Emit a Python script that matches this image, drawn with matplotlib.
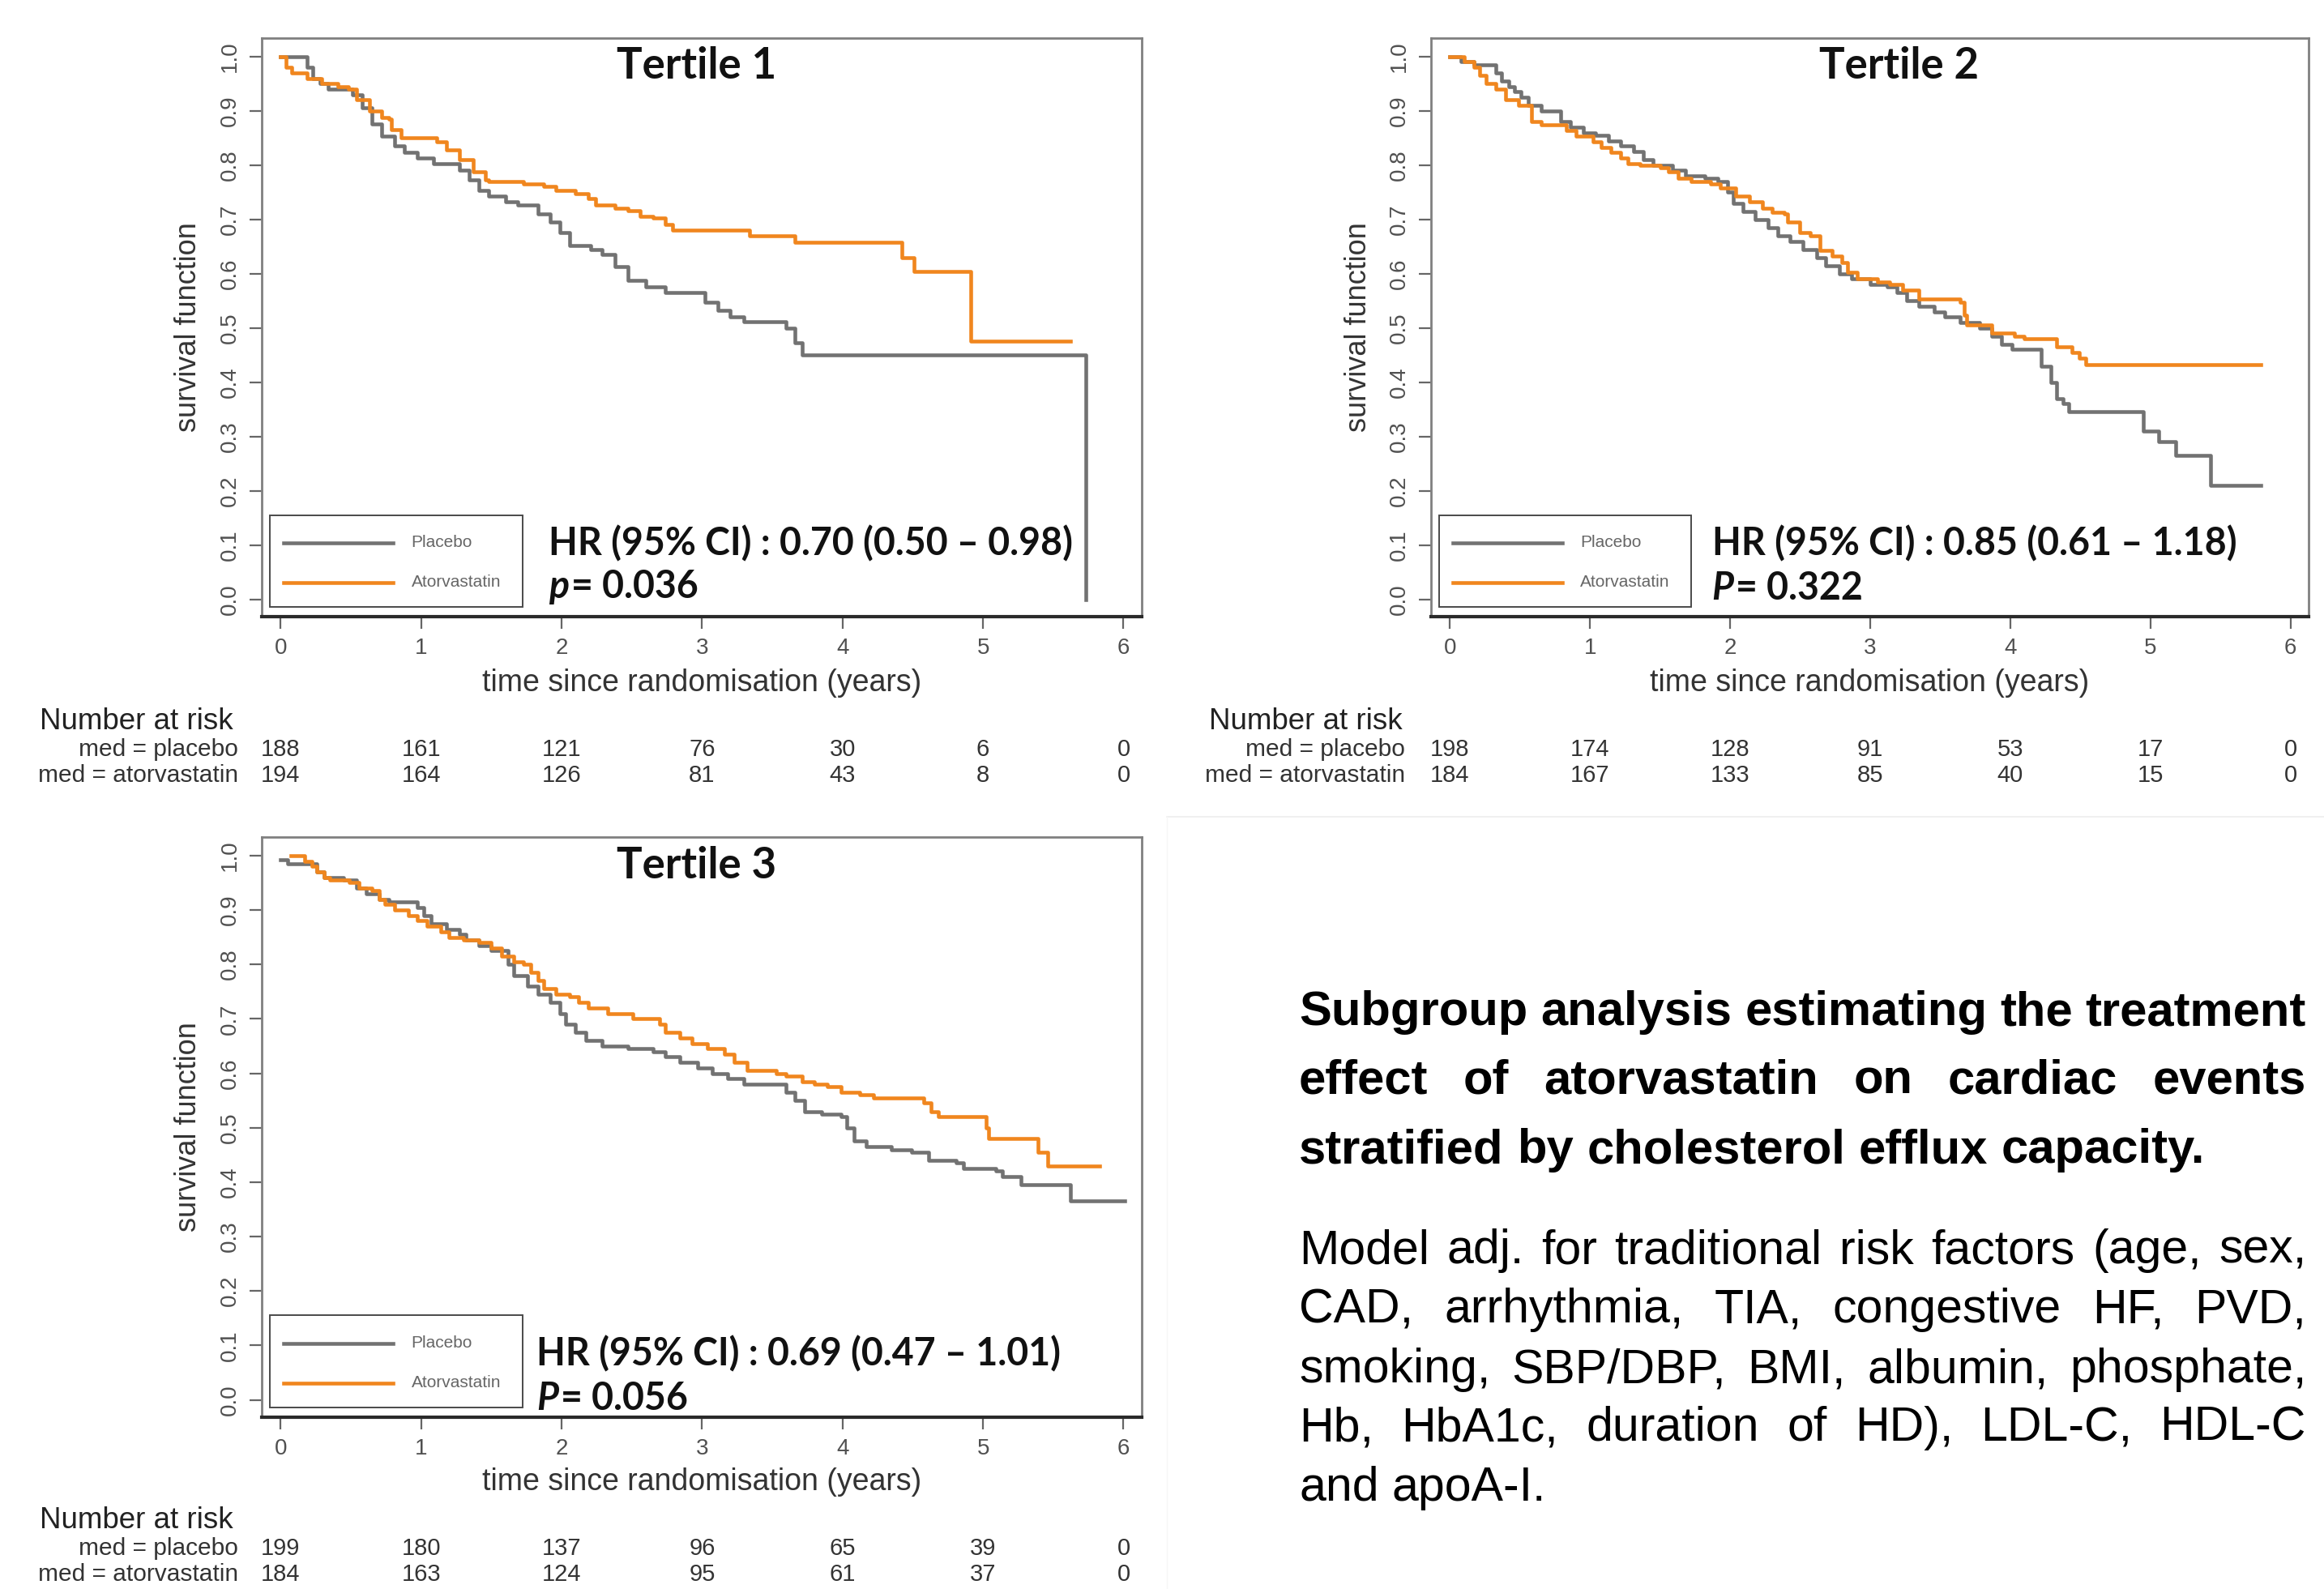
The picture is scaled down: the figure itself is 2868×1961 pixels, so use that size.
import matplotlib
matplotlib.use("Agg")
import matplotlib.pyplot as plt
from matplotlib.patches import Rectangle
from matplotlib.lines import Line2D
from matplotlib.transforms import blended_transform_factory

W, H = 2868, 1961
GREY = "#727272"
ORANGE = "#f0861e"

# Kaplan-Meier step data (time in years, survival)
t1_pl_t = [0, 0.19, 0.23, 0.28, 0.34, 0.51, 0.58, 0.65, 0.72, 0.81, 0.88, 0.97, 1.09, 1.27, 1.34, 1.41, 1.48,
           1.60, 1.69, 1.83, 1.92, 1.99, 2.06, 2.21, 2.29, 2.38, 2.47, 2.60, 2.74, 3.02, 3.11, 3.20, 3.30,
           3.60, 3.66, 3.71, 5.73]
t1_pl_s = [1.0, 0.98, 0.96, 0.95, 0.94, 0.93, 0.906, 0.876, 0.854, 0.836, 0.824, 0.813, 0.802, 0.791, 0.773,
           0.754, 0.743, 0.732, 0.726, 0.71, 0.695, 0.676, 0.652, 0.645, 0.636, 0.613, 0.587, 0.576, 0.565,
           0.547, 0.532, 0.521, 0.511, 0.499, 0.473, 0.45, 0.0]
t1_at_t = [0, 0.04, 0.08, 0.19, 0.29, 0.41, 0.48, 0.54, 0.63, 0.72, 0.77, 0.79, 0.86, 1.11, 1.18, 1.27, 1.37,
           1.46, 1.48, 1.73, 1.87, 1.96, 2.10, 2.19, 2.24, 2.38, 2.47, 2.56, 2.65, 2.74, 2.79, 3.34, 3.66,
           4.42, 4.51, 4.91, 5.62]
t1_at_s = [1.0, 0.98, 0.97, 0.96, 0.95, 0.945, 0.94, 0.92, 0.90, 0.887, 0.884, 0.865, 0.85, 0.843, 0.828,
           0.81, 0.787, 0.773, 0.77, 0.765, 0.761, 0.754, 0.748, 0.739, 0.726, 0.721, 0.716, 0.706, 0.702,
           0.691, 0.68, 0.669, 0.658, 0.63, 0.604, 0.476, 0.476]

t2_pl_t = [0, 0.08, 0.17, 0.33, 0.37, 0.42, 0.46, 0.51, 0.56, 0.65, 0.79, 0.86, 0.95, 1.04, 1.13, 1.22, 1.31,
           1.38, 1.45, 1.59, 1.68, 1.82, 1.91, 1.98, 2.02, 2.09, 2.18, 2.27, 2.34, 2.43, 2.52, 2.62, 2.68,
           2.78, 2.87, 3.00, 3.12, 3.19, 3.26, 3.35, 3.46, 3.53, 3.64, 3.78, 3.87, 3.94, 4.01, 4.22, 4.29,
           4.33, 4.38, 4.42, 4.95, 5.06, 5.18, 5.43, 5.79]
t2_pl_s = [1.0, 0.99, 0.985, 0.97, 0.955, 0.945, 0.935, 0.925, 0.91, 0.90, 0.88, 0.87, 0.86, 0.855, 0.845,
           0.835, 0.825, 0.81, 0.80, 0.79, 0.78, 0.775, 0.77, 0.75, 0.73, 0.715, 0.70, 0.685, 0.67, 0.66,
           0.645, 0.63, 0.615, 0.60, 0.59, 0.58, 0.575, 0.565, 0.55, 0.54, 0.53, 0.52, 0.51, 0.50, 0.485,
           0.47, 0.46, 0.43, 0.40, 0.37, 0.36, 0.345, 0.31, 0.29, 0.265, 0.21, 0.21]
t2_at_t = [0, 0.10, 0.17, 0.21, 0.26, 0.33, 0.40, 0.49, 0.58, 0.65, 0.83, 0.90, 1.02, 1.08, 1.15, 1.22, 1.27,
           1.36, 1.50, 1.56, 1.63, 1.72, 1.86, 1.93, 2.04, 2.14, 2.23, 2.30, 2.39, 2.41, 2.50, 2.57, 2.64,
           2.73, 2.80, 2.84, 2.91, 3.05, 3.14, 3.23, 3.35, 3.64, 3.67, 3.69, 3.87, 4.03, 4.10, 4.33, 4.44,
           4.49, 4.54, 5.79]
t2_at_s = [1.0, 0.99, 0.98, 0.965, 0.95, 0.94, 0.92, 0.91, 0.88, 0.874, 0.864, 0.854, 0.843, 0.832, 0.823,
           0.813, 0.802, 0.799, 0.795, 0.787, 0.776, 0.769, 0.765, 0.758, 0.743, 0.732, 0.721, 0.713, 0.71,
           0.695, 0.676, 0.669, 0.643, 0.632, 0.621, 0.602, 0.591, 0.584, 0.58, 0.569, 0.554, 0.547, 0.524,
           0.506, 0.491, 0.484, 0.48, 0.465, 0.454, 0.444, 0.432, 0.432]

t3_pl_t = [0, 0.05, 0.26, 0.31, 0.45, 0.54, 0.61, 0.70, 0.77, 0.97, 1.02, 1.07, 1.18, 1.27, 1.32, 1.41, 1.50,
           1.62, 1.66, 1.76, 1.83, 1.92, 1.99, 2.03, 2.10, 2.17, 2.29, 2.47, 2.65, 2.74, 2.84, 2.97, 3.07,
           3.18, 3.30, 3.60, 3.66, 3.73, 3.85, 3.99, 4.03, 4.08, 4.17, 4.35, 4.49, 4.61, 4.81, 4.86, 5.09,
           5.14, 5.27, 5.62, 6.01]
t3_pl_s = [0.993, 0.985, 0.97, 0.96, 0.955, 0.94, 0.93, 0.92, 0.915, 0.905, 0.89, 0.875, 0.865, 0.855, 0.845,
           0.835, 0.825, 0.80, 0.78, 0.76, 0.745, 0.73, 0.71, 0.69, 0.675, 0.66, 0.65, 0.645, 0.64, 0.63,
           0.62, 0.61, 0.60, 0.59, 0.58, 0.565, 0.55, 0.53, 0.525, 0.52, 0.50, 0.475, 0.465, 0.46, 0.455,
           0.44, 0.435, 0.425, 0.42, 0.41, 0.395, 0.365, 0.365]
t3_at_t = [0.07, 0.17, 0.22, 0.26, 0.31, 0.35, 0.49, 0.56, 0.65, 0.70, 0.74, 0.81, 0.91, 0.97, 1.04, 1.14,
           1.20, 1.30, 1.41, 1.50, 1.57, 1.66, 1.73, 1.78, 1.83, 1.87, 1.96, 2.06, 2.12, 2.19, 2.33, 2.51,
           2.70, 2.74, 2.84, 2.93, 3.04, 3.16, 3.23, 3.32, 3.53, 3.60, 3.71, 3.80, 3.89, 3.99, 4.12, 4.22,
           4.58, 4.63, 4.68, 5.02, 5.04, 5.39, 5.46, 5.83]
t3_at_s = [1.0, 0.99, 0.98, 0.97, 0.96, 0.955, 0.95, 0.94, 0.935, 0.92, 0.91, 0.90, 0.89, 0.88, 0.87, 0.86,
           0.85, 0.845, 0.84, 0.83, 0.815, 0.805, 0.80, 0.785, 0.77, 0.755, 0.745, 0.74, 0.73, 0.72, 0.71,
           0.70, 0.69, 0.675, 0.665, 0.655, 0.645, 0.635, 0.62, 0.605, 0.60, 0.595, 0.585, 0.58, 0.575,
           0.565, 0.56, 0.555, 0.545, 0.53, 0.52, 0.50, 0.48, 0.455, 0.43, 0.43]

risk_times = [0, 1, 2, 3, 4, 5, 6]
risk_t1_pl = [188, 161, 121, 76, 30, 6, 0]
risk_t1_at = [194, 164, 126, 81, 43, 8, 0]
risk_t2_pl = [198, 174, 128, 91, 53, 17, 0]
risk_t2_at = [184, 167, 133, 85, 40, 15, 0]
risk_t3_pl = [199, 180, 137, 96, 65, 39, 0]
risk_t3_at = [184, 163, 124, 95, 61, 37, 0]

titles = ["Tertile 1", "Tertile 2", "Tertile 3"]
hr_texts = ["HR (95% CI) : 0.70 (0.50 \u2013 0.98)",
            "HR (95% CI) : 0.85 (0.61 \u2013 1.18)",
            "HR (95% CI) : 0.69 (0.47 \u2013 1.01)"]
p_letters = ["p", "P", "P"]
p_values = ["= 0.036", "= 0.322", "= 0.056"]

caption_bold = ["Subgroup analysis estimating the treatment",
                "effect of atorvastatin on cardiac events",
                "stratified by cholesterol efflux capacity."]
caption_body = ["Model adj. for traditional risk factors (age, sex,",
                "CAD, arrhythmia, TIA, congestive HF, PVD,",
                "smoking, SBP/DBP, BMI, albumin, phosphate,",
                "Hb, HbA1c, duration of HD), LDL-C, HDL-C",
                "and apoA-I."]

plt.rcParams["font.family"] = ["Liberation Sans", "DejaVu Sans"]
fig = plt.figure(figsize=(W / 100, H / 100), dpi=100)


def fx(px):
    return px / W


def fy(py):
    return 1 - py / H


def km_panel(box, pl, at, title, hr, pletter, pval, title_x, hr_pos, xlabel_y):
    left, top, right, bottom = box
    ax = fig.add_axes([fx(left), fy(bottom), (right - left) / W, (bottom - top) / H])
    ax.step(pl[0], pl[1], where="post", color=GREY, lw=3.3, zorder=2)
    ax.step(at[0], at[1], where="post", color=ORANGE, lw=3.3, zorder=3)
    ax.set_xlim(-0.135, 6.13)
    ax.set_ylim(-0.032, 1.034)
    ax.set_xticks(risk_times)
    ax.set_yticks([i / 10 for i in range(11)])
    ax.set_yticklabels([f"{i / 10:.1f}" for i in range(11)])
    ax.tick_params(axis="both", direction="out", length=11, width=1.6, color="#666666",
                   labelsize=20, labelcolor="#505050")
    ax.tick_params(axis="x", pad=8)
    ax.tick_params(axis="y", pad=8, labelrotation=90)
    for lab in ax.get_yticklabels():
        lab.set_va("center")
    for s in ["left", "top", "right"]:
        ax.spines[s].set_color("#808080")
        ax.spines[s].set_linewidth(2.0)
    ax.spines["bottom"].set_color("#2a2a2a")
    ax.spines["bottom"].set_linewidth(3.0)
    ax.set_xlabel("time since randomisation (years)", fontsize=27, color="#333333", va="center")
    ax.xaxis.set_label_coords(0.5, xlabel_y)
    ax.set_ylabel("survival function", fontsize=26, color="#333333", va="center")
    ax.yaxis.set_label_coords(-0.083, 0.5)

    ax.text(title_x, 0.951, title, transform=ax.transAxes, ha="center", va="center",
            fontsize=38, fontweight="bold", family=["Lato", "DejaVu Sans"], color="#111111")

    # legend box
    ax.add_patch(Rectangle((-0.075, -0.014), 1.795, 0.169, facecolor="white",
                           edgecolor="#4a4a4a", lw=1.4, zorder=4))
    ax.add_line(Line2D([0.02, 0.80], [0.104, 0.104], color=GREY, lw=3.3, zorder=5))
    ax.add_line(Line2D([0.02, 0.80], [0.031, 0.031], color=ORANGE, lw=3.3, zorder=5))
    ax.text(0.93, 0.104, "Placebo", fontsize=15, color="#666666", va="center", zorder=5)
    ax.text(0.93, 0.031, "Atorvastatin", fontsize=15, color="#666666", va="center", zorder=5)

    hx, hy, py = hr_pos
    ax.text(hx, hy, hr, fontsize=33.5, fontweight="bold", family=["Lato", "DejaVu Sans"],
            color="#111111", va="baseline", zorder=5)
    pt = ax.text(hx, py, pletter, fontsize=33.5, fontweight="bold", style="italic",
                 family=["Lato", "DejaVu Sans"], color="#111111", va="baseline", zorder=5)
    ax.annotate(pval, xy=(1, 0), xycoords=pt, xytext=(2, 0), textcoords="offset points",
                fontsize=33.5, fontweight="bold", family=["Lato", "DejaVu Sans"],
                color="#111111", va="bottom", zorder=5)
    return ax


def risk_table(ax, label_left, label_right, ys, pl, at):
    tr = blended_transform_factory(ax.transData, fig.transFigure)
    fig.text(fx(label_left), fy(ys[0]), "Number at risk", fontsize=26.5, color="#222222", va="baseline")
    fig.text(fx(label_right), fy(ys[1]), "med = placebo", fontsize=21.5, color="#333333",
             va="baseline", ha="right")
    fig.text(fx(label_right), fy(ys[2]), "med = atorvastatin", fontsize=21.5, color="#333333",
             va="baseline", ha="right")
    for t, a, b in zip(risk_times, pl, at):
        fig.text(t, fy(ys[1]), str(a), transform=tr, fontsize=21, color="#333333",
                 ha="center", va="baseline")
        fig.text(t, fy(ys[2]), str(b), transform=tr, fontsize=21, color="#333333",
                 ha="center", va="baseline")


ax1 = km_panel((323, 47, 1409, 761), (t1_pl_t, t1_pl_s), (t1_at_t, t1_at_s), titles[0], hr_texts[0],
               p_letters[0], p_values[0], 0.494, (1.91, 0.081, 0.002), -0.115)
ax2 = km_panel((1766, 47, 2849, 761), (t2_pl_t, t2_pl_s), (t2_at_t, t2_at_s), titles[1], hr_texts[1],
               p_letters[1], p_values[1], 0.533, (1.87, 0.081, 0.0), -0.115)
ax3 = km_panel((323, 1033, 1409, 1749), (t3_pl_t, t3_pl_s), (t3_at_t, t3_at_s), titles[2], hr_texts[2],
               p_letters[2], p_values[2], 0.494, (1.82, 0.063, -0.019), -0.112)

risk_table(ax1, 49, 294, (900, 933, 965), risk_t1_pl, risk_t1_at)
risk_table(ax2, 1492, 1734, (900, 933, 965), risk_t2_pl, risk_t2_at)
risk_table(ax3, 49, 294, (1886, 1919, 1951), risk_t3_pl, risk_t3_at)

# faint panel seams from the original composite
fig.add_artist(Line2D([fx(1440), 1], [fy(1008), fy(1008)], color="#eeeeee", lw=1.2))
fig.add_artist(Line2D([fx(1440), fx(1440)], [fy(1008), 0], color="#f6f6f6", lw=1.0))

# justified caption on the right
renderer = fig.canvas.get_renderer()


def justified(lines, baselines, x0, x1, **kw):
    for i, (line, yb) in enumerate(zip(lines, baselines)):
        words = line.split()
        objs = [fig.text(0, fy(yb), w, va="baseline", **kw) for w in words]
        widths = [o.get_window_extent(renderer).width for o in objs]
        last = i == len(lines) - 1
        if last or len(words) == 1:
            sp = fig.text(0, 0, "a a", **kw)
            sa = fig.text(0, 0, "aa", **kw)
            gap = sp.get_window_extent(renderer).width - sa.get_window_extent(renderer).width
            sp.remove()
            sa.remove()
        else:
            gap = (x1 - x0 - sum(widths)) / (len(words) - 1)
        x = x0
        for o, wd in zip(objs, widths):
            o.set_x(fx(x))
            x += wd + gap


justified(caption_bold, [1265, 1350, 1435], 1603, 2846, fontsize=43, fontweight="bold", color="#000000")
justified(caption_body, [1559, 1632, 1706, 1778, 1852], 1603, 2846, fontsize=42.5, color="#000000")

fig.savefig("out.png", dpi=100)
